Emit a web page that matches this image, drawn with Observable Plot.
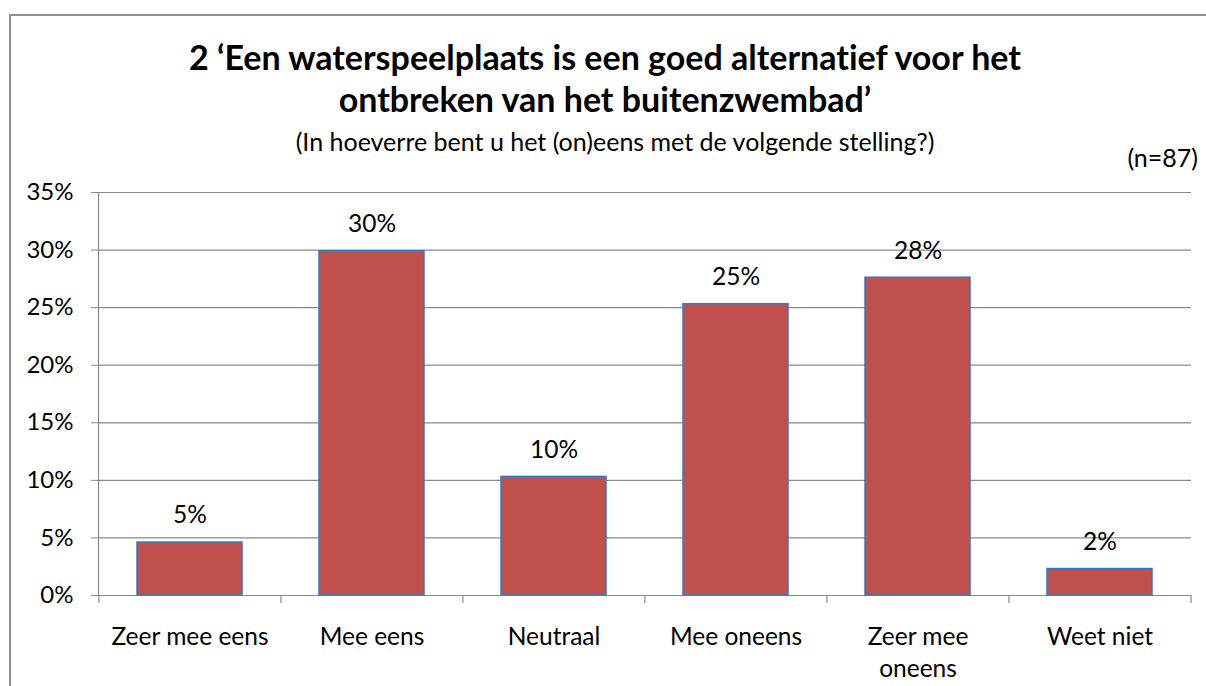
<!DOCTYPE html>
<html>
<head>
<meta charset="utf-8">
<script src="https://cdn.jsdelivr.net/npm/d3@7"></script>
<script src="https://cdn.jsdelivr.net/npm/@observablehq/plot@0.6"></script>
<style>
  html, body { margin: 0; padding: 0; background: #fff; }
  #wrap { position: relative; width: 1206px; height: 686px; overflow: hidden; background: #fff; font-family: Lato, "Open Sans", sans-serif; color: #000; font-variant-ligatures: none; }
  #frame { position: absolute; left: 9px; top: 14px; width: 1400px; height: 900px; border-left: 2px solid #8f8f8f; border-top: 2px solid #8f8f8f; }
  #head { position: relative; height: 180px; }
  #title { position: absolute; left: 0; width: 1210px; top: 36px; text-align: center; font-weight: bold; font-size: 34px; line-height: 42px; white-space: nowrap; }
  #subtitle { position: absolute; left: 0; width: 1230px; top: 126px; text-align: center; font-size: 25px; line-height: 1.2; white-space: nowrap; }
  #n { position: absolute; right: 8px; top: 142px; font-size: 25px; line-height: 1.2; }
  #chart { position: relative; }
  #chart svg text { font-variant-ligatures: none; }
</style>
</head>
<body>
<div id="wrap">
  <div id="frame"></div>
  <div id="head">
    <div id="title"></div>
    <div id="subtitle"></div>
    <div id="n"></div>
  </div>
  <div id="chart"></div>
</div>
<script>
const titleLines = ["2 \u2018Een waterspeelplaats is een goed alternatief voor het", "ontbreken van het buitenzwembad\u2019"];
const subtitle = "(In hoeverre bent u het (on)eens met de volgende stelling?)";
const nLabel = "(n=87)";
const categories = ["Zeer mee eens", "Mee eens", "Neutraal", "Mee oneens", "Zeer mee oneens", "Weet niet"];
const values = [4.6, 29.9, 10.3, 25.3, 27.6, 2.3];
const valueLabels = ["5%", "30%", "10%", "25%", "28%", "2%"];
const yTicks = [0, 5, 10, 15, 20, 25, 30, 35];

document.getElementById("title").innerHTML = titleLines.join("<br>");
document.getElementById("subtitle").textContent = subtitle;
document.getElementById("n").textContent = nLabel;

const data = categories.map((c, i) => ({category: c, value: values[i], label: valueLabels[i]}));

const W = 1206, H = 506, ML = 98, MR = 15, MT = 12, MB = 91;
const halfStep = (W - ML - MR) / categories.length / 2;
const FS = 24.5;

const chart = Plot.plot({
  width: W, height: H,
  marginTop: MT, marginBottom: MB, marginLeft: ML, marginRight: MR,
  style: {fontFamily: "Lato, 'Open Sans', sans-serif", fontSize: FS + "px", color: "#000", background: "transparent", overflow: "visible"},
  x: {domain: categories, paddingInner: 0.424, paddingOuter: 0.212, label: null},
  y: {domain: [0, 35], label: null},
  marks: [
    Plot.gridY(yTicks, {stroke: "#8a8a8a", strokeOpacity: 1, strokeWidth: 1.2}),
    Plot.axisY(yTicks, {tickFormat: d => d + "%", tickSize: 7, tickPadding: 18, stroke: "#8a8a8a", fill: "#000", fontSize: 24, label: null}),
    Plot.frame({anchor: "left", stroke: "#8a8a8a", strokeWidth: 1.2}),
    Plot.ruleY([0], {stroke: "#8a8a8a", strokeWidth: 1.2}),
    Plot.ruleX(categories, {x: d => d, y1: 0, y2: -0.7, dx: -halfStep, stroke: "#8a8a8a", strokeWidth: 1.2}),
    Plot.ruleX(categories.slice(-1), {x: d => d, y1: 0, y2: -0.7, dx: halfStep, stroke: "#8a8a8a", strokeWidth: 1.2}),
    Plot.barY(data, {x: "category", y: "value", fill: "#C0504D", stroke: "#2f7cc6", strokeWidth: 1.5}),
    Plot.text(data, {x: "category", y: "value", text: "label", dy: -27, fontSize: FS, fill: "#000"}),
    Plot.axisX({tickSize: 0, tickPadding: 27, lineWidth: 7.3, lineHeight: 1.3, fontSize: FS, fill: "#000", label: null})
  ]
});
document.getElementById("chart").appendChild(chart);
</script>
</body>
</html>
